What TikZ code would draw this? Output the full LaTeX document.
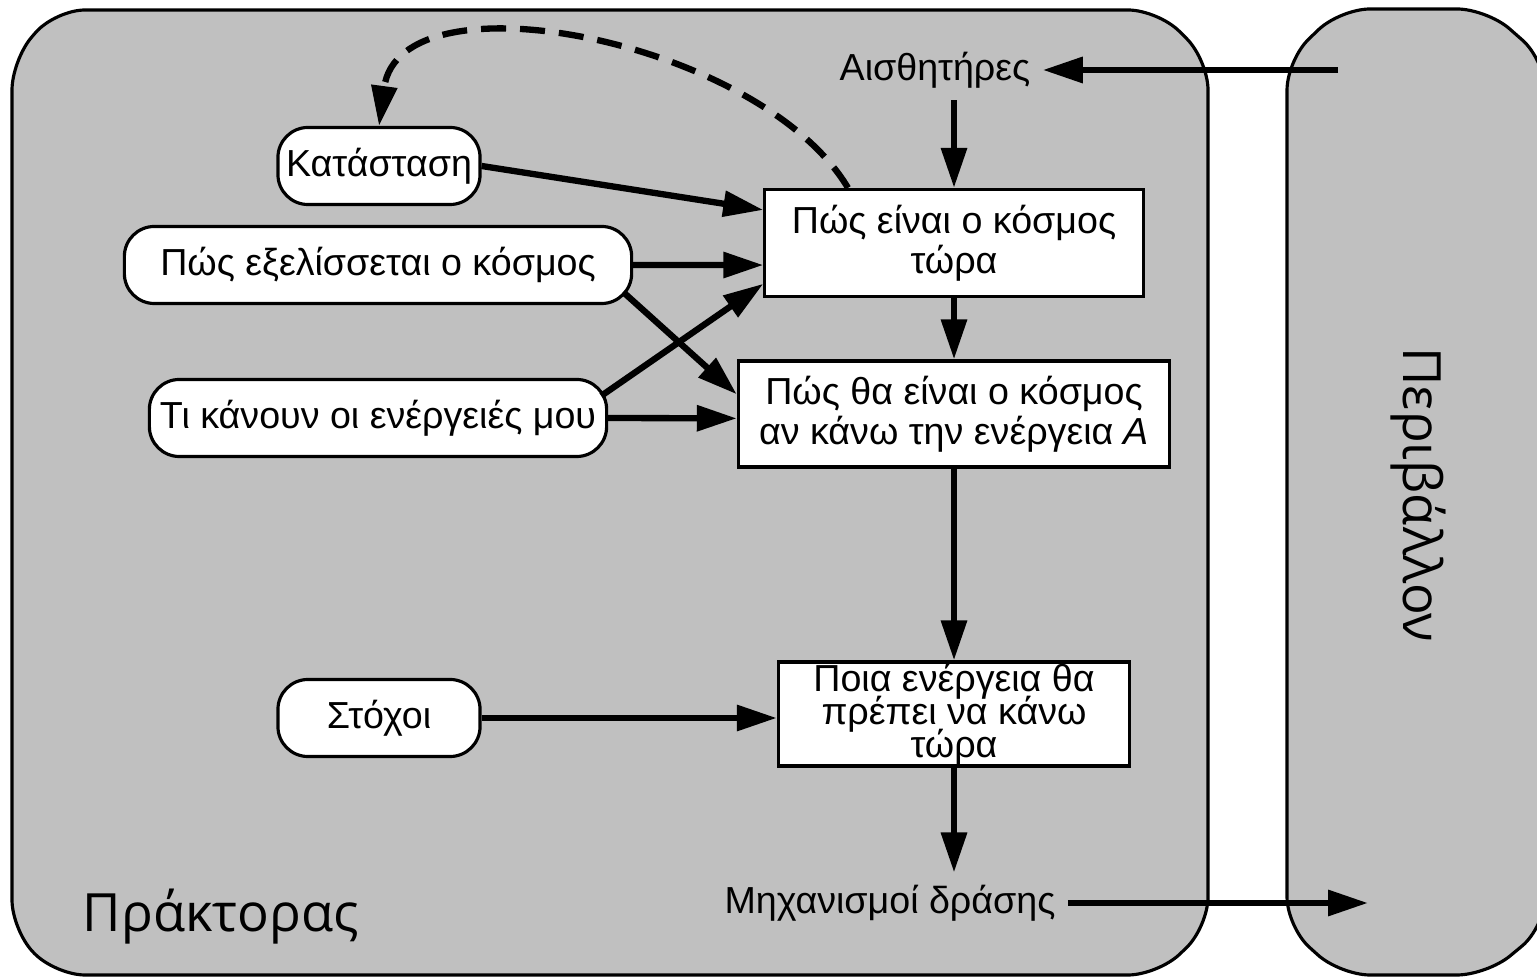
\documentclass[tikz,border=0pt]{standalone}
\usepackage{fontspec}
\setmainfont{Liberation Sans}
\newfontfamily\zonefont{Open Sans}
\usetikzlibrary{positioning,calc,arrows.meta}
\definecolor{zoneGray}{HTML}{C0C0C0}
\tikzset{
  zone/.style={
    fill=zoneGray, draw=black, line width=0.9pt,
    rounded corners=0.3cm,
  },
  zone title/.style={
    font=\zonefont\fontsize{15}{18}\selectfont, inner sep=0pt,
  },
  know pill/.style={
    rectangle, rounded corners=0.3cm,
    draw=black, fill=white, line width=0.9pt,
    minimum height=0.77cm, inner sep=0pt,
    font=\fontsize{10.7}{12}\selectfont,
  },
  world box/.style={
    rectangle, draw=black, fill=white, line width=0.9pt,
    align=center, inner sep=0pt,
    font=\fontsize{10.7}{11.4}\selectfont,
  },
  port text/.style={
    font=\fontsize{10.7}{12}\selectfont,
  },
  flow/.style={
    -{Triangle[length=0.4cm,width=0.25cm]}, line width=1.8pt,
  },
  feedback/.style={
    flow, dash pattern=on 0.25cm off 0.14cm,
  },
}

\begin{document}
\begin{tikzpicture}[x=0.01cm, y=-0.01cm]
\useasboundingbox (0,0) rectangle (1537,977);

% --- zones: agent (left) and environment (right) ---
\draw[zone] (12,60) -- (55,10) -- (1158,10) -- (1208,60)
  -- (1208,927) -- (1158,975) -- (55,975) -- (12,930) -- cycle;
\draw[zone] (1287,60) -- (1340,9) -- (1487,9) -- (1545,60)
  -- (1545,927) -- (1487,975) -- (1340,975) -- (1287,927) -- cycle;
\node[zone title, anchor=base west] (agent) at (82,932) {Πράκτορας};
\node[zone title, rotate=-90] (env) at (1418,495) {Περιβάλλον};

% --- sensors / effectors ---
\node[port text] (sensors) at (935,70) {Αισθητήρες};
\node[port text] (effectors) at (890,903) {Μηχανισμοί δράσης};
\coordinate (envIn) at (1338,70);
\coordinate (envOut) at (1368,906);

% --- internal state boxes ---
\node[world box, minimum width=3.78cm, minimum height=1.07cm]
  (now) at (954,243) {Πώς είναι ο κόσμος\\τώρα};
\node[world box, minimum width=4.31cm, minimum height=1.06cm]
  (next) at (954,414) {Πώς θα είναι ο κόσμος\\αν κάνω την ενέργεια \textit{A}};
\node[world box, minimum width=3.51cm, minimum height=1.04cm]
  (choice) at (954,714) {Ποια ενέργεια θα\\[-2pt]πρέπει να κάνω\\[-2pt]τώρα};

% --- knowledge pills ---
\node[know pill, minimum width=2.02cm] (state) at (379,166) {Κατάσταση};
\node[know pill, minimum width=5.07cm] (evolve) at (378,265) {Πώς εξελίσσεται ο κόσμος};
\node[know pill, minimum width=4.57cm] (acts) at (378,418) {Τι κάνουν οι ενέργειές μου};
\node[know pill, minimum width=2.02cm] (goals) at (379,718) {Στόχοι};

% --- connectors ---
\draw[flow] (envIn) -- (envIn -| sensors.east);
\draw[flow] (sensors.south -| now.north) -- (now.north);
\draw[flow] (now.south) -- (next.north);
\draw[flow] (next.south) -- (choice.north);
\draw[flow] (choice.south) -- (choice.south |- effectors.north);
\draw[flow] (effectors.east) -- (effectors.east -| envOut);

\draw[flow] (state.east) -- ($(now.north west)!0.2!(now.south west)$);
\draw[flow] (evolve.east) -- ($(now.north west)!0.7!(now.south west)$);
\draw[flow] ([shift={(-10,-13)}]evolve.south east)
  -- ($(next.north west)!0.32!(next.south west)$);
\draw[flow] ([shift={(-7,18)}]acts.north east)
  -- ($(now.north west)!0.87!(now.south west)$);
\draw[flow] (acts.east) -- ($(next.north west)!0.54!(next.south west)$);
\draw[flow] (goals.east) -- (goals.east -| choice.west);

\draw[feedback] ([xshift=-1.06cm]now.north)
  .. controls (760,40) and (400,-30) .. (state.north);

\end{tikzpicture}
\end{document}
